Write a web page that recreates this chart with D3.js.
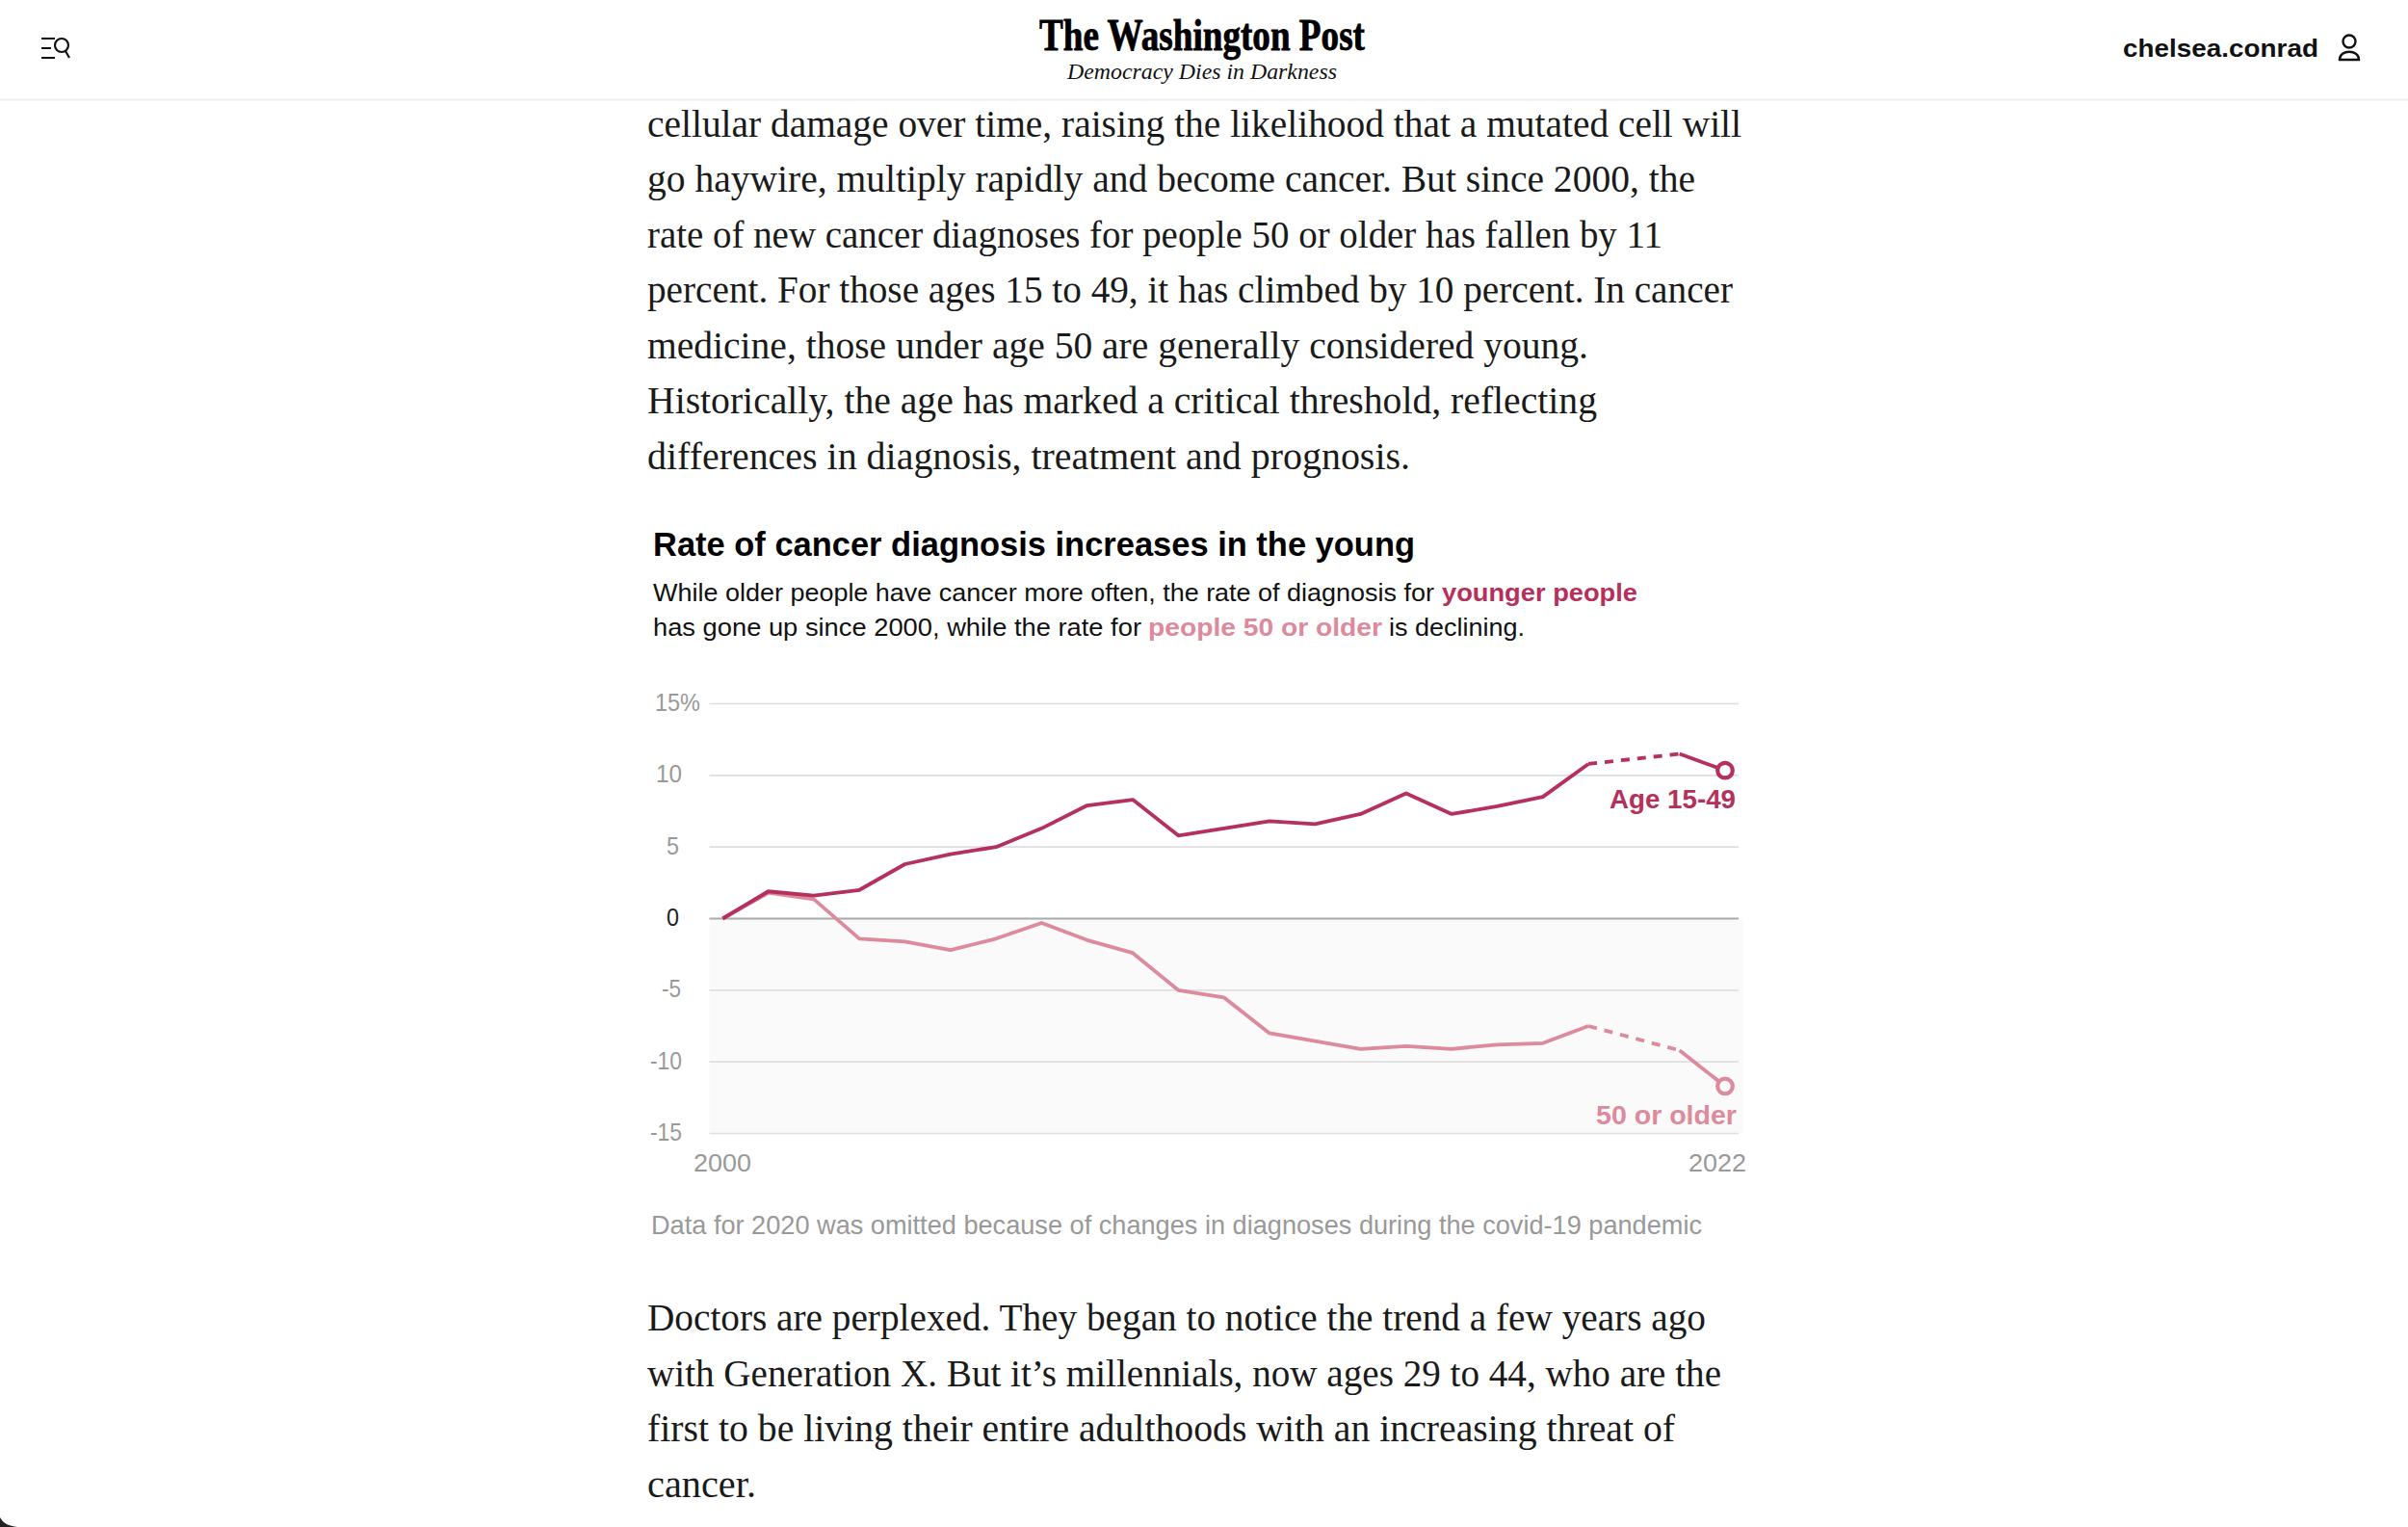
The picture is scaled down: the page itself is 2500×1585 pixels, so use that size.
<!DOCTYPE html>
<html><head><meta charset="utf-8">
<script src="https://cdn.jsdelivr.net/npm/d3@7"></script>
<style>html,body{margin:0;padding:0;background:#fff}svg{display:block}</style>
</head><body><svg id="c" width="2500" height="1585"></svg>
<script>
const yearsSolidA=[2000,2001,2002,2003,2004,2005,2006,2007,2008,2009,2010,2011,2012,2013,2014,2015,2016,2017,2018,2019];
const youngSolidA=[0,1.9,1.6,2.0,3.8,4.5,5.0,6.3,7.9,8.3,5.8,6.3,6.8,6.6,7.3,8.75,7.3,7.85,8.5,10.8];
const olderSolidA=[0,1.8,1.35,-1.4,-1.6,-2.2,-1.4,-0.3,-1.5,-2.4,-5,-5.5,-8,-8.55,-9.1,-8.9,-9.1,-8.8,-8.7,-7.5];
const yearsGap=[2019,2021];
const youngGap=[10.8,11.5];
const olderGap=[-7.5,-9.2];
const yearsEnd=[2021,2022];
const youngEnd=[11.5,10.35];
const olderEnd=[-9.2,-11.7];
const yTicks=[15,10,5,0,-5,-10,-15];
const xLabels=[2000,2022];
const bodyTop=["cellular damage over time, raising the likelihood that a mutated cell will","go haywire, multiply rapidly and become cancer. But since 2000, the","rate of new cancer diagnoses for people 50 or older has fallen by 11","percent. For those ages 15 to 49, it has climbed by 10 percent. In cancer","medicine, those under age 50 are generally considered young.","Historically, the age has marked a critical threshold, reflecting","differences in diagnosis, treatment and prognosis."];
const bodyBottom=["Doctors are perplexed. They began to notice the trend a few years ago","with Generation X. But it’s millennials, now ages 29 to 44, who are the","first to be living their entire adulthoods with an increasing threat of","cancer."];
const bodyTopW=[1136,1088,1054,1127,977,986,792];
const bodyBottomW=[1099,1115,1067,113];
const DARK="#b5305a", LIGHT="#dc8a9c";
const SANS="'Liberation Sans',Arial,sans-serif", SERIF="'Liberation Serif',serif";
const svg=d3.select("#c");
const x=d3.scaleLinear().domain([2000,2022]).range([750.3,1791]);
const y=d3.scaleLinear().domain([-15,15]).range([1176.5,730.5]);
function fit(sel,w){sel.attr("textLength",w).attr("lengthAdjust","spacingAndGlyphs");return sel;}
function txt(t,px,py,size,opt={}){const s=svg.append("text").attr("x",px).attr("y",py).attr("font-size",size)
 .attr("font-family",opt.family||SANS).attr("font-weight",opt.weight||400).attr("font-style",opt.style||"normal")
 .attr("fill",opt.fill||"#111").attr("text-anchor",opt.anchor||"start").text(t);
 if(opt.w)fit(s,opt.w);return s;}
// corner of the screenshot
svg.append("path").attr("d","M0 1575C3 1581 9 1584 18 1585H0Z").attr("fill","#222");
// header
svg.append("line").attr("x1",0).attr("x2",2500).attr("y1",103.5).attr("y2",103.5).attr("stroke","#efefef").attr("stroke-width",2);
const ic=svg.append("g").attr("fill","none").attr("stroke","#111").attr("stroke-width",2.2);
ic.append("path").attr("d","M43 40H57M43 50H53M43 60H57");
ic.append("circle").attr("cx",64).attr("cy",47).attr("r",7);
ic.append("path").attr("d","M68 53L72 60");
const uc=svg.append("g").attr("fill","none").attr("stroke","#111").attr("stroke-width",2.4);
uc.append("circle").attr("cx",2439).attr("cy",43).attr("r",6.5);
uc.append("path").attr("d","M2429 62C2429 51 2449 51 2449 62Z");
txt("The Washington Post",1248,52,46,{family:SERIF,weight:700,anchor:"middle",w:338,fill:"#000"}).attr("stroke","#000").attr("stroke-width",.8);
txt("Democracy Dies in Darkness",1248,82,24,{family:SERIF,style:"italic",anchor:"middle",w:280});
txt("chelsea.conrad",2204,59,26,{weight:700,w:203,fill:"#111"});
// body
bodyTop.forEach((t,i)=>txt(t,672,141.5+i*57.5,39,{family:SERIF,w:bodyTopW[i],fill:"#1a1a1a"}));
bodyBottom.forEach((t,i)=>txt(t,672,1381+i*57.5,39,{family:SERIF,w:bodyBottomW[i],fill:"#1a1a1a"}));
// title
txt("Rate of cancer diagnosis increases in the young",678,576.5,35,{weight:700,w:791,fill:"#000"});
txt("While older people have cancer more often, the rate of diagnosis for",678,624,26.5,{w:811,fill:"#111"});
txt("younger people",1497,624,26.5,{weight:700,w:203,fill:DARK});
txt("has gone up since 2000, while the rate for",678,660,26.5,{w:507,fill:"#111"});
txt("people 50 or older",1192,660,26.5,{weight:700,w:243,fill:LIGHT});
txt("is declining.",1442,660,26.5,{w:141,fill:"#111"});
// plot
svg.append("rect").attr("x",736.5).attr("y",y(0)).attr("width",1810-736.5).attr("height",y(-15)-y(0)).attr("fill","#fafafa");
svg.selectAll("line.g").data(yTicks).join("line").attr("class","g").attr("x1",736.5).attr("x2",1805)
 .attr("y1",d=>y(d)).attr("y2",d=>y(d)).attr("stroke",d=>d===0?"#aaaaaa":"#dfdfdf").attr("stroke-width",d=>d===0?2:1.6);
const tickR={15:"15%"};
const tickX={15:680,10:681,5:692,0:692,"-5":687,"-10":675,"-15":675};
const tickW={15:47,10:27,5:13,0:13,"-5":20,"-10":33,"-15":33};
svg.selectAll("text.yt").data(yTicks).join("text").attr("class","yt").attr("font-family",SANS).attr("font-size",25)
 .attr("x",d=>tickX[d]).attr("y",d=>y(d)+7.5).attr("textLength",d=>tickW[d]).attr("lengthAdjust","spacingAndGlyphs")
 .attr("fill",d=>d===0?"#222":"#999").text(d=>tickR[d]||d);
svg.selectAll("text.xt").data(xLabels).join("text").attr("class","xt").attr("font-family",SANS).attr("font-size",25)
 .attr("x",d=>d===2000?720:1753).attr("y",1216).attr("textLength",60).attr("lengthAdjust","spacingAndGlyphs").attr("fill","#999").text(d=>d);
const line=d3.line().x(d=>x(d[0])).y(d=>y(d[1]));
function draw(vs,ys,col,dash){svg.append("path").datum(d3.zip(ys,vs)).attr("d",line).attr("fill","none").attr("stroke",col)
 .attr("stroke-width",3.8).attr("stroke-linejoin","round").attr("stroke-dasharray",dash||null);}
draw(olderSolidA,yearsSolidA,LIGHT);draw(olderGap,yearsGap,LIGHT,"9 8");draw(olderEnd,yearsEnd,LIGHT);
draw(youngSolidA,yearsSolidA,DARK);draw(youngGap,yearsGap,DARK,"9 8");draw(youngEnd,yearsEnd,DARK);
[[youngEnd,DARK],[olderEnd,LIGHT]].forEach(([v,c])=>svg.append("circle").attr("cx",x(2022)).attr("cy",y(v[1])).attr("r",7.8)
 .attr("fill","#fff").attr("stroke",c).attr("stroke-width",4.2));
txt("Age 15-49",1802,839,28,{weight:700,fill:DARK,anchor:"end",w:131});
txt("50 or older",1803,1167,28,{weight:700,fill:LIGHT,anchor:"end",w:146});
txt("Data for 2020 was omitted because of changes in diagnoses during the covid-19 pandemic",676,1281,28,{fill:"#999",w:1091});
</script></body></html>
